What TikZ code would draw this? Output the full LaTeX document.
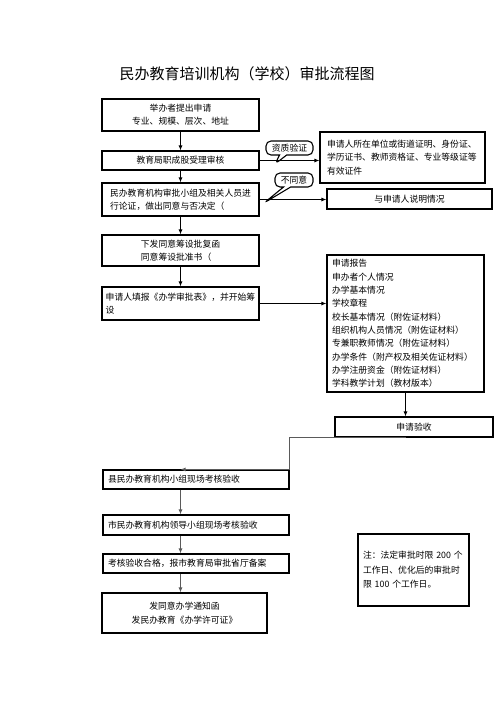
\documentclass[tikz,border=0pt]{standalone}
\usepackage{fontspec}
\setmainfont{Noto Sans CJK SC}
\usetikzlibrary{arrows.meta, shapes.callouts}
\definecolor{cline}{HTML}{5A5A5A}
\newcommand{\cnbody}{\fontsize{8.8}{13.3}\selectfont}
\tikzset{
  every picture/.style={line width=1.1pt},
  box/.style={draw, font=\cnbody, inner xsep=5pt, inner ysep=2pt, minimum width=157pt, align=center},
  lbox/.style={box, align=left, text width=#1},
  arrow/.style={-{Latex[length=5pt, width=4pt]}, line width=1.3pt},
  garrow/.style={arrow, draw=cline, line width=1.7pt},
  tag/.style={rectangle callout, draw, rounded corners=5pt, font=\cnbody, minimum width=47pt, minimum height=14pt, inner sep=1pt},
  title/.style={font=\fontsize{15}{18}\selectfont},
}
\begin{document}
\begin{tikzpicture}[x=1pt, y=-1pt]
  \useasboundingbox (0,0) rectangle (496,702);
  \node[title] (title) at (247,74) {民办教育培训机构（学校）审批流程图};
  % main column
  \node[box, minimum height=32pt] (apply) at (180.5,115) {举办者提出申请\\专业、规模、层次、地址};
  \node[box, minimum height=19pt] (accept) at (180.5,160.5) {教育局职成股受理审核};
  \node[box, align=left, minimum height=33pt] (review) at (180.5,199.5) {民办教育机构审批小组及相关人员进\\行论证，做出同意与否决定（};
  \node[box, align=left, minimum height=31pt] (approve) at (180.5,250.5) {下发同意筹设批复函\\同意筹设批准书（};
  \node[box, align=left, inner xsep=3pt, minimum height=33pt] (fill) at (180.5,303.5) {申请人填报《办学审批表》，并开始筹\\设};
  \foreach \a/\b in {apply/accept, accept/review, review/approve, approve/fill} \draw[arrow] (\a) -- (\b);
  % right side
  \node[lbox=151pt, minimum width=165pt, minimum height=51pt] (certs) at (402.5,157.5) {申请人所在单位或街道证明、身份证、\\学历证书、教师资格证、专业等级证等\\有效证件};
  \node[box, minimum width=165pt, minimum height=20pt] (explain) at (409.5,199) {与申请人说明情况};
  \node[lbox=147pt, minimum height=137pt] (materials) at (405.5,323.5) {申请报告\\申办者个人情况\\办学基本情况\\学校章程\\校长基本情况（附佐证材料）\\组织机构人员情况（附佐证材料）\\专兼职教师情况（附佐证材料）\\办学条件（附产权及相关佐证材料）\\办学注册资金（附佐证材料）\\学科教学计划（教材版本）};
  \node[box, minimum width=158pt, minimum height=20pt] (check) at (414,427) {申请验收};
  \draw[arrow] (accept.east) -- (accept.east -| certs.west);
  \draw[arrow] (review.east) -- (review.east -| explain.west);
  \draw[arrow] (fill.east) -- (fill.east -| materials.west);
  \draw[arrow] (materials.south) -- (materials.south |- check.north);
  % callouts
  \coordinate (tip1) at (275,164);
  \coordinate (tip2) at (264,203);
  \node[tag, callout absolute pointer=(tip1)] (verify) at (289.5,148) {资质验证};
  \node[tag, minimum width=38pt, callout absolute pointer=(tip2)] (refuse) at (294,180) {不同意};
  % acceptance
  \node[lbox=176pt, minimum height=19pt] (county) at (196,479.5) {县民办教育机构小组现场考核验收};
  \node[lbox=176pt, minimum height=20pt] (city) at (196,525) {市民办教育机构领导小组现场考核验收};
  \node[lbox=176pt, minimum height=19pt] (pass) at (196,563.5) {考核验收合格，报市教育局审批省厅备案};
  \node[box, minimum width=165pt, minimum height=40pt] (license) at (184.5,613) {发同意办学通知函\\发民办教育《办学许可证》};
  \draw[garrow] (check.south -| materials.south) -| (county.north east) -- (county.north -| fill);
  \foreach \a/\b in {county/city, city/pass, pass/license} \draw[garrow] (\a.south -| fill) -- (\b.north -| fill);
  \node[lbox=101pt, minimum width=111pt, minimum height=72pt, font=\fontsize{8.8}{14.5}\selectfont] (note) at (413.5,570) {注：法定审批时限 200 个\\工作日、优化后的审批时\\限 100 个工作日。};
\end{tikzpicture}
\end{document}
